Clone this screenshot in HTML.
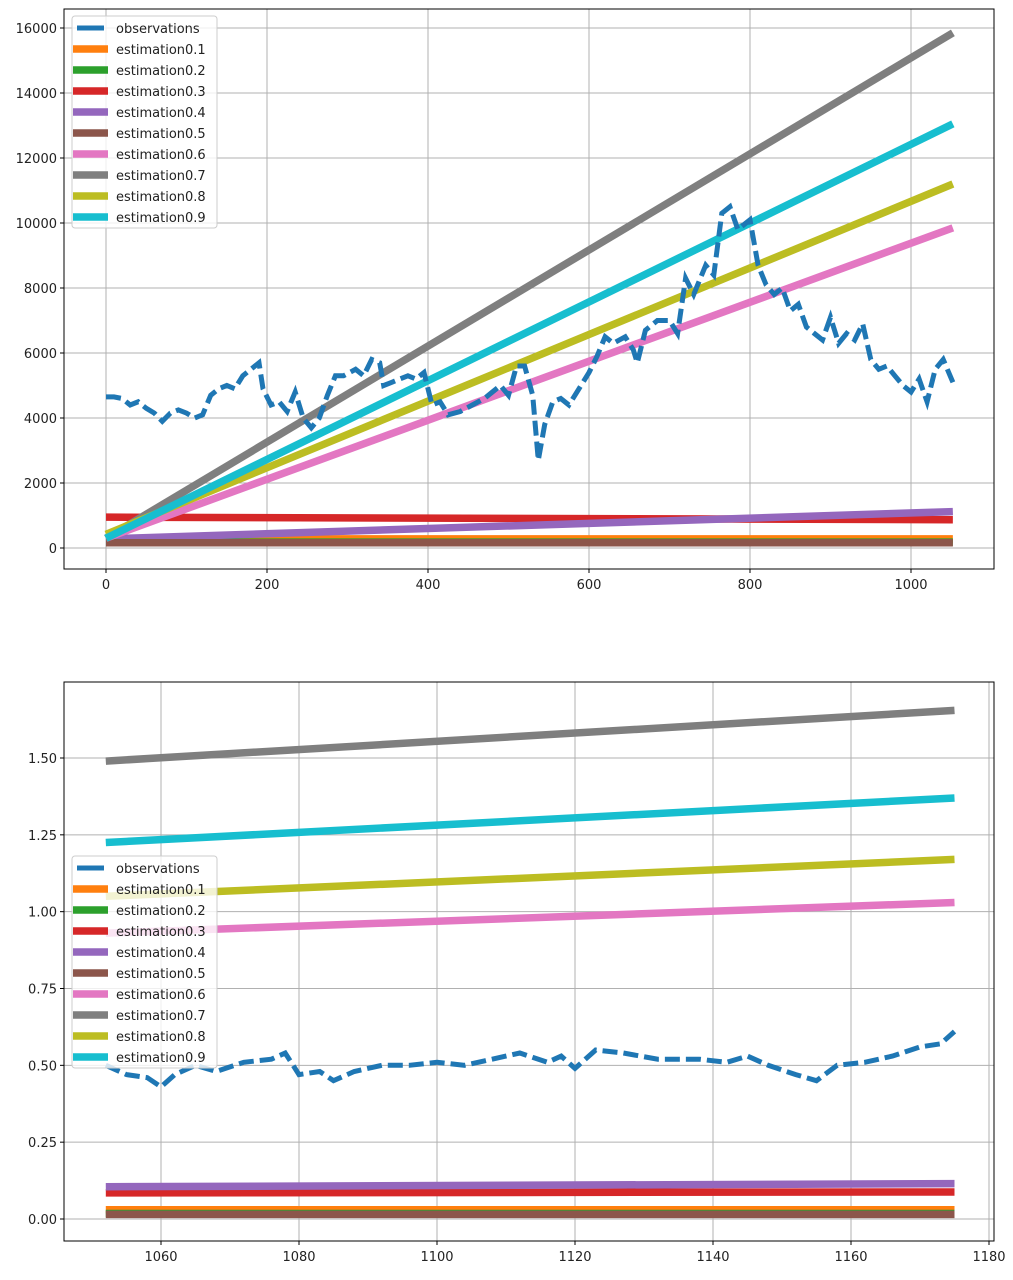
<!DOCTYPE html>
<html><head><meta charset="utf-8"><style>
body{margin:0;background:#fff}
svg text{font-family:"DejaVu Sans","Liberation Sans",sans-serif;font-size:13px;fill:#222}
</style></head><body>
<svg id="chart" width="1013" height="1275" xmlns="http://www.w3.org/2000/svg"></svg>
<script>
// ---- data ----
const topObsX=[0,10,20,30,40,50,60,70,80,90,100,110,120,130,140,150,160,170,180,190,195,205,215,225,235,245,255,265,275,285,295,310,320,330,340,345,355,365,375,385,395,405,415,425,440,455,470,480,490,500,510,520,530,537,545,555,565,575,590,600,610,620,630,645,655,660,670,685,700,710,720,730,745,755,765,775,785,795,800,810,820,830,840,850,860,870,880,890,900,910,920,930,940,950,960,970,980,990,1000,1010,1020,1030,1040,1052];
const topObsY=[4650,4650,4600,4400,4500,4300,4150,3900,4150,4250,4150,4000,4100,4700,4900,5000,4900,5300,5500,5700,4900,4400,4500,4200,4800,4000,3700,4000,4700,5300,5300,5500,5300,5800,5700,5000,5100,5200,5300,5200,5400,4400,4500,4100,4200,4400,4600,4800,5000,4700,5600,5600,4700,2700,3800,4500,4600,4400,5000,5400,5900,6500,6300,6500,6100,5700,6700,7000,7000,6600,8300,7800,8700,8400,10300,10500,9800,10000,10100,8700,8100,7800,8000,7300,7500,6800,6600,6400,7100,6300,6600,6400,6900,5800,5500,5600,5300,5000,4800,5200,4500,5500,5800,5100];
const estNames=["estimation0.1","estimation0.2","estimation0.3","estimation0.4","estimation0.5","estimation0.6","estimation0.7","estimation0.8","estimation0.9"];
const topEstStart=[280,180,950,280,160,300,300,420,300];
const topEstEnd=[280,180,870,1120,160,9850,15850,11200,13050];
const topXRange=[0,1052];
const topXTicks=[0,200,400,600,800,1000];
const topYTicks=[0,2000,4000,6000,8000,10000,12000,14000,16000];
const botObsX=[1052,1055,1058,1060,1062,1065,1068,1072,1076,1078,1080,1083,1085,1088,1092,1096,1100,1104,1108,1112,1116,1118,1120,1123,1127,1132,1138,1142,1145,1148,1152,1155,1158,1162,1166,1170,1173,1175];
const botObsY=[0.5,0.47,0.46,0.43,0.47,0.5,0.48,0.51,0.52,0.54,0.47,0.48,0.45,0.48,0.5,0.5,0.51,0.5,0.52,0.54,0.51,0.53,0.49,0.55,0.54,0.52,0.52,0.51,0.53,0.5,0.47,0.45,0.5,0.51,0.53,0.56,0.57,0.61];
const botEstStart=[0.03,0.018,0.085,0.105,0.015,0.93,1.49,1.05,1.225];
const botEstEnd=[0.03,0.018,0.088,0.115,0.015,1.03,1.655,1.17,1.37];
const botXRange=[1052,1175];
const botXTicks=[1060,1080,1100,1120,1140,1160,1180];
const botYTicks=[0,0.25,0.5,0.75,1.0,1.25,1.5];
const colors=["#ff7f0e","#2ca02c","#d62728","#9467bd","#8c564b","#e377c2","#7f7f7f","#bcbd22","#17becf"];
const obsColor="#1f77b4";
// ---- draw ----
const svg=document.getElementById('chart');
const NS="http://www.w3.org/2000/svg";
function mk(tag,attrs,parent){const e=document.createElementNS(NS,tag);for(const k in attrs)e.setAttribute(k,attrs[k]);(parent||svg).appendChild(e);return e;}
function drawAxes(cfg){
  const g=mk('g',{});
  
  
  const sx=v=>cfg.px0+(v-cfg.x0)*cfg.kx, sy=v=>cfg.py0-(v-cfg.y0)*cfg.ky;
  cfg.xt.forEach(t=>{const x=sx(t);const l=mk('line',{x1:x,x2:x,y1:cfg.top,y2:cfg.bottom,stroke:'#b0b0b0','stroke-width':1},g);
    
    mk('line',{x1:x,x2:x,y1:cfg.bottom,y2:cfg.bottom+4,stroke:'#000'},g);
    const tx=mk('text',{x:x,y:cfg.bottom+20,'text-anchor':'middle'},g);tx.textContent=cfg.xf(t);
    });
  cfg.yt.forEach(t=>{const y=sy(t);const l=mk('line',{x1:cfg.left,x2:cfg.right,y1:y,y2:y,stroke:'#b0b0b0','stroke-width':1},g);
    
    mk('line',{x1:cfg.left-4,x2:cfg.left,y1:y,y2:y,stroke:'#000'},g);
    const tx=mk('text',{x:cfg.left-7,y:y+5,'text-anchor':'end'},g);tx.textContent=cfg.yf(t);
    });
  estNames.forEach((n,i)=>{
    const p=mk('line',{x1:sx(cfg.xr[0]),y1:sy(cfg.es[i]),x2:sx(cfg.xr[1]),y2:sy(cfg.ee[i]),stroke:colors[i],'stroke-width':7.5},g);
    
  });
  const d=cfg.ox.map((x,i)=>(i?'L':'M')+sx(x).toFixed(1)+','+sy(cfg.oy[i]).toFixed(1)).join('');
  const o=mk('path',{d:d,fill:'none',stroke:obsColor,'stroke-width':5,'stroke-dasharray':'15,6'},g);
  
  mk('rect',{x:cfg.left,y:cfg.top,width:cfg.right-cfg.left,height:cfg.bottom-cfg.top,fill:'none',stroke:'#000','stroke-width':1},g);
  const lg=mk('g',{},g);
  
  mk('rect',{x:cfg.lx,y:cfg.ly,width:145,height:212,rx:3,fill:'rgba(255,255,255,0.8)',stroke:'#ccc'},lg);
  const items=[['observations',obsColor,true]].concat(estNames.map((n,i)=>[n,colors[i],false]));
  items.forEach((it,i)=>{const y=cfg.ly+12+i*21;
    const e=mk('g',{},lg);
    if(it[2])mk('line',{x1:cfg.lx+5,x2:cfg.lx+32,y1:y,y2:y,stroke:it[1],'stroke-width':5},e);
    else mk('line',{x1:cfg.lx+1,x2:cfg.lx+36,y1:y,y2:y,stroke:it[1],'stroke-width':7.5},e);
    const t=mk('text',{x:cfg.lx+44,y:y+5},e);t.textContent=it[0];});
}
drawAxes({name:'top-axes',left:64,right:994,top:9,bottom:569,px0:106,x0:0,kx:161/200,py0:548,y0:0,ky:65/2000,
  xt:topXTicks,yt:topYTicks,xf:v=>String(v),yf:v=>String(v),xr:topXRange,es:topEstStart,ee:topEstEnd,ox:topObsX,oy:topObsY,lx:72,ly:16});
drawAxes({name:'bottom-axes',left:64,right:994,top:682,bottom:1241,px0:161,x0:1060,kx:138/20,py0:1219,y0:0,ky:461/1.5,
  xt:botXTicks,yt:botYTicks,xf:v=>String(v),yf:v=>v.toFixed(2),xr:botXRange,es:botEstStart,ee:botEstEnd,ox:botObsX,oy:botObsY,lx:72,ly:856});
</script>
</body></html>
